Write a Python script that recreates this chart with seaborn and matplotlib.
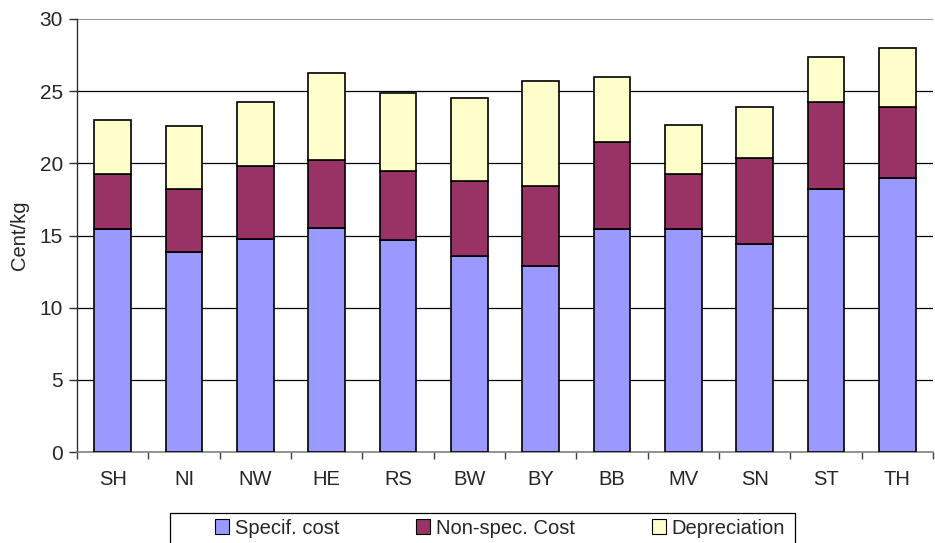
import numpy as np
import pandas as pd
import seaborn as sns
import matplotlib.pyplot as plt
from matplotlib.patches import Patch, Rectangle
from matplotlib.ticker import FixedLocator

regions = ["SH", "NI", "NW", "HE", "RS", "BW", "BY", "BB", "MV", "SN", "ST", "TH"]
specif_cost = [15.45, 13.88, 14.78, 15.54, 14.69, 13.56, 12.89, 15.45, 15.45, 14.43, 18.22, 18.98]
nonspec_cost = [3.79, 4.34, 5.01, 4.67, 4.76, 5.22, 5.54, 6.00, 3.79, 5.92, 6.01, 4.92]
depreciation = [3.79, 4.34, 4.46, 6.03, 5.45, 5.77, 7.25, 4.55, 3.44, 3.55, 3.11, 4.09]

series_names = ["Specif. cost", "Non-spec. Cost", "Depreciation"]
colors = ["#9999FF", "#993366", "#FFFFCC"]

df = pd.DataFrame({
    "region": regions,
    series_names[0]: specif_cost,
    series_names[1]: nonspec_cost,
    series_names[2]: depreciation,
})

sns.set_style("white")
plt.rcParams["font.family"] = ["Liberation Sans", "DejaVu Sans"]

W, H = 935, 543
fig = plt.figure(figsize=(W / 100, H / 100), dpi=100)
ax = fig.add_axes([77 / W, 1 - 452 / H, (933 - 77) / W, (452 - 19) / H])

bottom = np.zeros(len(regions))
for name, color in zip(series_names, colors):
    sns.barplot(
        data=df, x="region", y=name, ax=ax,
        color=color, bottom=bottom, width=0.51,
        edgecolor="black", linewidth=1.2, saturation=1,
        zorder=3,
    )
    bottom = bottom + df[name].values

ax.set_xlim(-0.5, len(regions) - 0.5)
ax.set_ylim(0, 30)
ax.set_yticks(np.arange(0, 31, 5))
ax.set_xlabel("")
ax.set_ylabel("Cent/kg", fontsize=14.5, labelpad=8)

# gridlines like Excel
for yv in range(5, 30, 5):
    ax.axhline(yv, color="black", linewidth=0.9, zorder=1)
ax.axhline(30, color="#808080", linewidth=1.2, zorder=1)

for side in ["top", "right"]:
    ax.spines[side].set_visible(False)
ax.spines["left"].set_color("#303030")
ax.spines["bottom"].set_color("#808080")
ax.spines["left"].set_linewidth(1)
ax.spines["bottom"].set_linewidth(1.2)

ax.tick_params(axis="y", left=True, length=6, width=1, color="#303030",
               labelsize=15, pad=4)
ax.tick_params(axis="x", which="major", length=0, labelsize=14.5, pad=13)
ax.xaxis.set_minor_locator(FixedLocator(np.arange(-0.5, len(regions), 1.0)))
ax.tick_params(axis="x", which="minor", bottom=True, length=5, width=1, color="#404040")

# legend box at the bottom, partly cut off like the original
fig.patches.append(Rectangle((170 / W, -0.01), (795 - 170) / W, (0.01 + 1 - 513 / H),
                             transform=fig.transFigure, facecolor="white",
                             edgecolor="black", linewidth=0.9))

handles = [Patch(facecolor=c, edgecolor="black", linewidth=0.8, label=n)
           for n, c in zip(series_names, colors)]
fig.legend(
    handles=handles, loc="center", bbox_to_anchor=(500 / W, 1 - 528 / H),
    ncol=3, frameon=False, fontsize=14.5,
    handlelength=0.72, handleheight=0.72, handletextpad=0.28,
    columnspacing=3.8, borderpad=0, borderaxespad=0,
)

fig.savefig("out.png", dpi=100)
